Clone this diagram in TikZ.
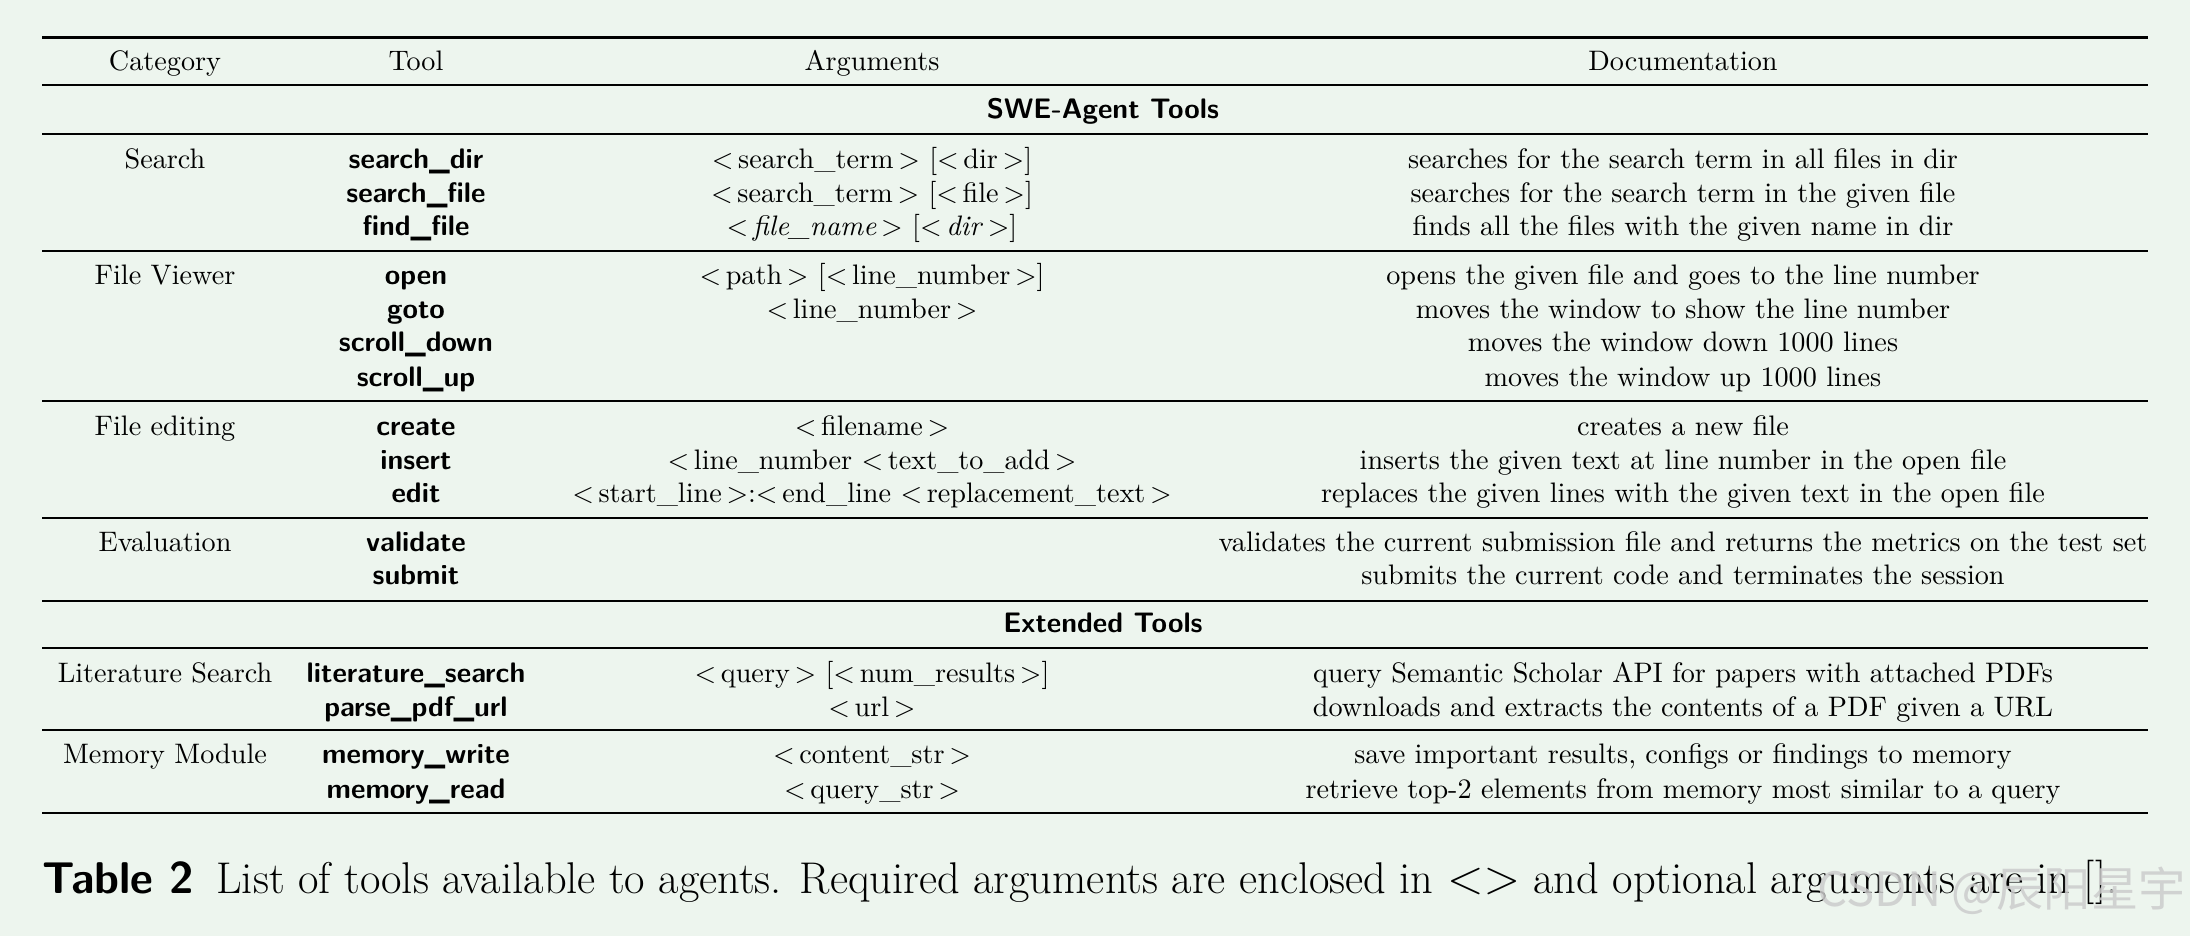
\documentclass[tikz,border=0pt]{standalone}
\usepackage{fontspec}
\newfontfamily\cjk{Noto Sans CJK SC}
\definecolor{bg}{HTML}{EDF5EE}
\newcommand{\ar}[1]{$<$\,#1\,$>$}
\newcommand{\tl}[1]{{\sffamily\bfseries #1}}
\begin{document}
\begin{tikzpicture}[x=0.36pt,y=-0.36pt,
  every node/.style={inner sep=0pt,anchor=base,font=\fontsize{10.15}{12}\selectfont},
  rule/.style={line width=0.5pt},
  thick rule/.style={line width=1pt}]
\fill[bg] (0,0) rectangle (2190,936);
\useasboundingbox (0,0) rectangle (2190,936);
\foreach \y in {85,134,251,401,518,601,648,730} \draw[rule] (42,\y) -- (2148,\y);
\draw[thick rule] (42,37.7) -- (2148,37.7);
\draw[thick rule] (42,813) -- (2148,813);
\begin{scope}[yshift=-9.5*0.36pt]
% header
\node (hc) at (165,61) {Category};
\node (ht) at (416,61) {Tool};
\node (ha) at (872,61) {Arguments};
\node (hd) at (1683,61) {Documentation};
\node (s1) at (1103,109) {\tl{SWE-Agent Tools}};
\node (s2) at (1103,623) {\tl{Extended Tools}};
% categories
\node (c1) at (165,159) {Search};
\node (c2) at (165,275) {File Viewer};
\node (c3) at (165,426) {File editing};
\node (c4) at (165,542) {Evaluation};
\node (c5) at (165,673) {Literature Search};
\node (c6) at (165,754) {Memory Module};
% tools
\foreach \n/\y/\t in {t1/159/search\_dir,t2/193/search\_file,t3/226/find\_file,
  t4/275/open,t5/309/goto,t6/342/scroll\_down,t7/377/scroll\_up,
  t8/426/create,t9/460/insert,t10/493/edit,t11/542/validate,t12/575/submit,
  t13/673/literature\_search,t14/707/parse\_pdf\_url,t15/754/memory\_write,t16/789/memory\_read}
  \node (\n) at (416,\y) {\tl{\t}};
% arguments
\node (a1) at (872,159) {\ar{search\_term} [\ar{dir}]};
\node (a2) at (872,193) {\ar{search\_term} [\ar{file}]};
\node (a3) at (872,226) {\ar{\textit{file\_name}} [\ar{\textit{dir}}]};
\node (a4) at (872,275) {\ar{path} [\ar{line\_number}]};
\node (a5) at (872,309) {\ar{line\_number}};
\node (a8) at (872,426) {\ar{filename}};
\node (a9) at (872,460) {$<$\,line\_number $<$\,text\_to\_add\,$>$};
\node (a10) at (872,493) {\ar{start\_line}:$<$\,end\_line $<$\,replacement\_text\,$>$};
\node (a13) at (872,673) {\ar{query} [\ar{num\_results}]};
\node (a14) at (872,707) {\ar{url}};
\node (a15) at (872,754) {\ar{content\_str}};
\node (a16) at (872,789) {\ar{query\_str}};
% documentation
\foreach \n/\y/\t in {d1/159/searches for the search term in all files in dir,
  d2/193/searches for the search term in the given file,
  d3/226/finds all the files with the given name in dir,
  d4/275/opens the given file and goes to the line number,
  d5/309/moves the window to show the line number,
  d6/342/moves the window down 1000 lines,
  d7/377/moves the window up 1000 lines,
  d8/426/creates a new file,
  d9/460/inserts the given text at line number in the open file,
  d10/493/replaces the given lines with the given text in the open file,
  d11/542/validates the current submission file and returns the metrics on the test set,
  d12/575/submits the current code and terminates the session,
  d13/673/query Semantic Scholar API for papers with attached PDFs,
  d14/707/downloads and extracts the contents of a PDF given a URL,
  d15/754/save important results{,} configs or findings to memory,
  d16/789/retrieve top-2 elements from memory most similar to a query}
  \node (\n) at (1683,\y) {\t};
\end{scope}
% caption
\node[anchor=base west,font=\fontsize{16}{19}\selectfont] (cap) at (42,893)
  {\tl{Table 2}\enspace List of tools available to agents. Required arguments are enclosed in $<>$ and optional arguments are in [].};
\node[anchor=base east,text=gray!40,opacity=0.85,font=\cjk\fontsize{17}{20}\selectfont] (wm) at (2186,906) {CSDN @辰阳星宇};
\end{tikzpicture}
\end{document}
